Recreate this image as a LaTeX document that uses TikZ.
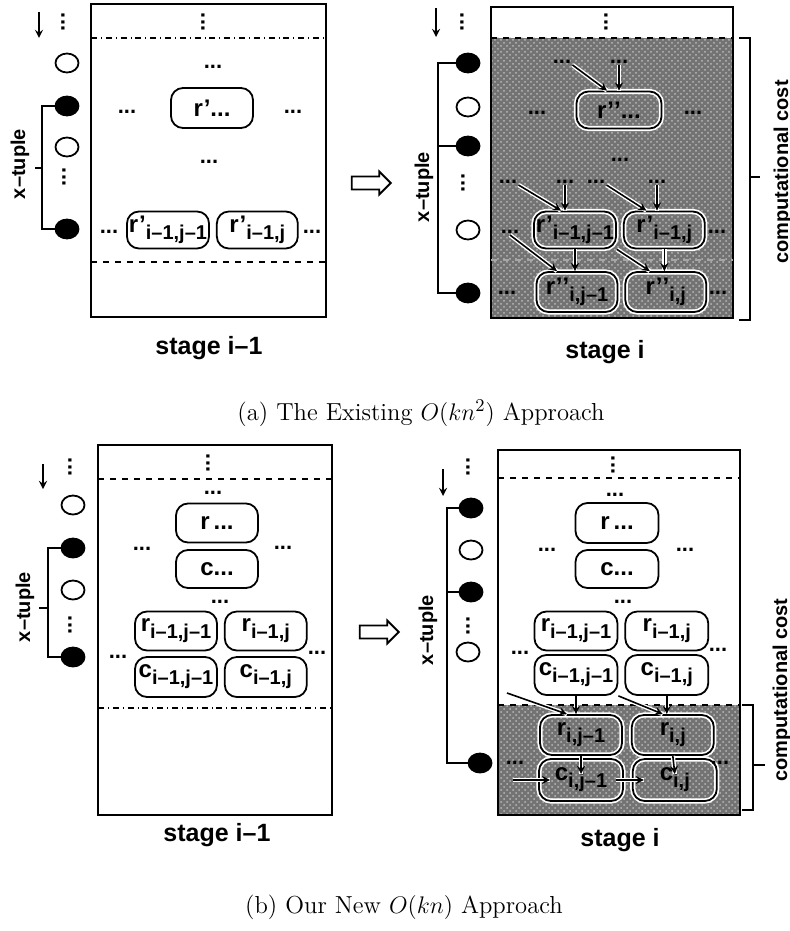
\documentclass[tikz,border=0pt]{standalone}
\usepackage{amsmath}
\usepackage{fontspec}
\newfontfamily\hv[Ligatures=TeX]{Liberation Sans}
\usepackage{tikz}
\usetikzlibrary{arrows,positioning,shapes.geometric,shapes.arrows,patterns}

\newcommand{\sbs}[1]{\raisebox{-0.55ex}{\fontsize{10}{10}\selectfont #1}}

\begin{document}
\begin{tikzpicture}[
  x=0.5pt, y=-0.5pt, >=stealth,
  frm/.style={line width=1pt},
  sep/.style={dashed, line width=0.8pt},
  sepdd/.style={dash dot, line width=0.8pt},
  shade/.style={fill=black!55, postaction={pattern=crosshatch dots, pattern color=white!72!black}},
  cell/.style={draw, line width=0.9pt, rounded corners=6pt, minimum width=40.5pt, minimum height=18.5pt, inner sep=1pt, font=\hv\bfseries\fontsize{12}{12}\selectfont},
  hcell/.style={cell, preaction={draw=white, line width=2.6pt}},
  hd/.style={font=\hv\bfseries\fontsize{11}{11}\selectfont, inner sep=0.5pt},
  vd/.style={hd, rotate=90},
  tup/.style={ellipse, draw, line width=0.9pt, minimum width=11.5pt, minimum height=9.5pt, inner sep=0},
  ftup/.style={tup, fill=black},
  brk/.style={line width=0.8pt},
  flow/.style={->, line width=0.8pt},
  hflow/.style={flow, preaction={draw=white, line width=2.2pt, -}},
  lbl/.style={font=\hv\bfseries\fontsize{10}{12}\selectfont},
  stg/.style={font=\hv\bfseries\fontsize{12.5}{14}\selectfont},
  capt/.style={font=\fontsize{12.3}{14}\selectfont},
  hollow/.style={single arrow, draw, line width=0.9pt, fill=white, minimum height=19.5pt, inner sep=2.8pt, single arrow head extend=2.5pt}
]
\useasboundingbox (0,0) rectangle (790,931);

\draw[frm] (91,4) rectangle (326,317);
\draw[sepdd] (91,38) -- (326,38);
\draw[sep] (91,262) -- (326,262);
\node[vd] (atop) at (203,22) {...};
\coordinate (aa1) at (39,12);
\coordinate (aa2) at (39,38);
\draw[flow] (aa1) -- (aa2);
\node[vd] (av0) at (63,22) {...};
\node[tup] (at1) at (67,63) {};
\node[ftup] (at2) at (67,106) {};
\node[tup] (at3) at (67,147) {};
\node[vd] (av1) at (64,177) {...};
\node[ftup] (at4) at (67,229) {};
\coordinate (ab) at (42,168);
\draw[brk] (at2.west) -| (ab) |- (at4.west);
\draw[brk] (ab) -- ++(-7,0);
\node[lbl, rotate=90] (axt) at (20,164) {x--tuple};
\node[hd] (ad1) at (213,67) {...};
\node[cell, minimum width=41pt, minimum height=20pt] (arp) at (212,108) {r'...};
\node[hd] (ad2) at (127,112) {...};
\node[hd] (ad3) at (293,112) {...};
\node[hd] (ad4) at (209,162) {...};
\node[cell] (ar1) at (168,230) {r'\sbs{i--1,j--1}};
\node[cell, right=3pt of ar1] (ar2) {r'\sbs{i--1,j}};
\node[hd] (ad5) at (109,232) {...};
\node[hd] (ad6) at (312,232) {...};
\node[stg] (ast) at (209,348) {stage i--1};

\node[hollow] (ha) at (368,183) {};

\fill[shade] (491,38) rectangle (733,318);
\draw[frm] (491,7) rectangle (733,318);
\draw[sep] (491,38) -- (733,38);
\draw[sep, white!65!black] (491,260) -- (733,260);
\node[vd] (btop) at (606,22) {...};
\coordinate (ba1) at (436,8);
\coordinate (ba2) at (436,37);
\draw[flow] (ba1) -- (ba2);
\node[vd] (bv0) at (462,22) {...};
\node[ftup] (bt1) at (468,63) {};
\node[tup] (bt2) at (468,107) {};
\node[ftup] (bt3) at (468,146) {};
\node[vd] (bv1) at (463,183) {...};
\node[tup] (bt4) at (468,230) {};
\node[ftup] (bt5) at (468,293) {};
\coordinate (bb) at (438,178);
\draw[brk] (bt1.west) -| (bb) |- (bt5.west);
\draw[brk] (bt3.west) -- (bt3.west -| bb);
\node[lbl, rotate=90] (bxt) at (424,187) {x--tuple};
\node[hd] (bd1) at (562,62) {...};
\node[hd] (bd2) at (619,62) {...};
\node[hcell, minimum width=42.5pt] (brp) at (619,110) {r'\kern0pt'...};
\draw[hflow] (bd1.south east) -- ([xshift=-6pt]brp.north);
\draw[hflow] (bd2.south) -- (brp.north);
\node[hd] (bd3) at (537,113) {...};
\node[hd] (bd4) at (693,113) {...};
\node[hd] (bd5) at (620,160) {...};
\node[hd] (bd6) at (508,182) {...};
\node[hd] (bd7) at (565,182) {...};
\node[hd] (bd8) at (596,182) {...};
\node[hd] (bd9) at (657,182) {...};
\node[hcell] (br1) at (575,230) {r'\sbs{i--1,j--1}};
\node[hcell, right=3pt of br1] (br2) {r'\sbs{i--1,j}};
\draw[hflow] (bd6.south east) -- ([xshift=-7pt]br1.north);
\draw[hflow] (bd7.south) -- (bd7.south |- br1.north);
\draw[hflow] (bd8.south east) -- ([xshift=-9pt]br2.north);
\draw[hflow] (bd9.south) -- (bd9.south |- br2.north);
\node[hd] (bd10) at (510,232) {...};
\node[hd] (bd11) at (717,232) {...};
\node[hcell, minimum height=20pt] (br3) at (577,292) {r'\kern0pt'\sbs{i,j--1}};
\node[hcell, minimum height=20pt, right=3pt of br3] (br4) {r'\kern0pt'\sbs{i,j}};
\draw[hflow] (bd10.south) -- ([xshift=-10pt]br3.north);
\draw[hflow] (br1.south) -- (br1.south |- br3.north);
\draw[hflow] (br1.south east) -- ([xshift=-8pt]br4.north);
\draw[hflow] (br2.south) -- (br2.south |- br4.north);
\node[hd] (bd12) at (507,293) {...};
\node[hd] (bd13) at (718,293) {...};
\coordinate (bc1) at (739,38);
\coordinate (bc2) at (739,320);
\coordinate (bcm) at (750,177);
\draw[brk] (bc1) -- (bc1 -| bcm) -- (bc2 -| bcm) -- (bc2);
\draw[brk] (bcm) -- ++(10,0);
\node[lbl, rotate=90] (bcost) at (783,172) {computational cost};
\node[stg] (bst) at (605,352) {stage i};

\node[capt] (capa) at (421,413) {(a) The Existing $O(kn^2)$ Approach};

\draw[frm] (98,445) rectangle (332,815);
\draw[sep] (98,479) -- (332,479);
\draw[sepdd] (98,708) -- (332,708);
\node[vd] (ctop) at (208,463) {...};
\coordinate (ca1) at (43,464);
\coordinate (ca2) at (43,489);
\draw[flow] (ca1) -- (ca2);
\node[vd] (cv0) at (70,467) {...};
\node[tup] (ct1) at (73,505) {};
\node[ftup] (ct2) at (73,548) {};
\node[tup] (ct3) at (73,590) {};
\node[vd] (cv1) at (70,625) {...};
\node[ftup] (ct4) at (73,657) {};
\coordinate (cb) at (48,608);
\draw[brk] (ct2.west) -| (cb) |- (ct4.west);
\draw[brk] (cb) -- ++(-9,0);
\node[lbl, rotate=90] (cxt) at (25,607) {x--tuple};
\node[hd] (cd1) at (213,493) {...};
\node[cell, minimum width=41pt, minimum height=19.5pt] (crr) at (217,523) {r\,...};
\node[cell, minimum width=41pt, minimum height=19pt] (ccc) at (217,569) {c...};
\node[hd] (cd2) at (142,549) {...};
\node[hd] (cd3) at (283,548) {...};
\node[hd] (cd4) at (220,602) {...};
\node[cell, minimum width=41pt, minimum height=19.5pt] (cr1) at (176,631) {r\sbs{i--1,j--1}};
\node[cell, minimum width=41pt, minimum height=19.5pt, right=3pt of cr1] (cr2) {r\sbs{i--1,j}};
\node[cell, minimum width=41pt, minimum height=20pt] (cc1) at (176,677) {c\sbs{i--1,j--1}};
\node[cell, minimum width=41pt, minimum height=20pt, right=3pt of cc1] (cc2) {c\sbs{i--1,j}};
\node[hd] (cd5) at (118,657) {...};
\node[hd] (cd6) at (317,653) {...};
\node[stg] (cst) at (217,835) {stage i--1};

\node[hollow] (hb) at (376,632) {};

\fill[shade] (498,705) rectangle (740,815);
\draw[frm] (498,450) rectangle (740,815);
\draw[sep] (498,478) -- (740,478);
\draw[sep] (498,705) -- (740,705);
\node[vd] (dtop) at (613,465) {...};
\coordinate (da1) at (443,469);
\coordinate (da2) at (443,496);
\draw[flow] (da1) -- (da2);
\node[vd] (dv0) at (468,467) {...};
\node[ftup] (dt1) at (471,508) {};
\node[tup] (dt2) at (471,550) {};
\node[ftup] (dt3) at (471,592) {};
\node[vd] (dv1) at (468,626) {...};
\node[tup] (dt4) at (468,652) {};
\node[ftup] (dt5) at (480,763) {};
\coordinate (db) at (447,630);
\draw[brk] (dt1.west) -| (db) |- (dt5.west);
\draw[brk] (dt3.west) -- (dt3.west -| db);
\node[lbl, rotate=90] (dxt) at (428,630) {x--tuple};
\node[hd] (dd1) at (615,495) {...};
\node[cell, minimum width=41.5pt, minimum height=20pt] (drr) at (617,523) {r\,...};
\node[cell, minimum width=41.5pt, minimum height=19pt] (dcc) at (617,569) {c...};
\node[hd] (dd2) at (547,550) {...};
\node[hd] (dd3) at (685,550) {...};
\node[hd] (dd4) at (623,602) {...};
\node[cell, minimum width=41.5pt, minimum height=19.5pt] (dr1) at (576,631) {r\sbs{i--1,j--1}};
\node[cell, minimum width=41.5pt, minimum height=19.5pt, right=3pt of dr1] (dr2) {r\sbs{i--1,j}};
\node[cell, minimum width=41.5pt, minimum height=20pt] (dc1) at (576,675) {c\sbs{i--1,j--1}};
\node[cell, minimum width=41.5pt, minimum height=20pt, right=3pt of dc1] (dc2) {c\sbs{i--1,j}};
\node[hd] (dd5) at (520,653) {...};
\node[hd] (dd6) at (718,650) {...};
\node[hcell, minimum width=41pt, minimum height=20pt] (dr3) at (581,735) {r\sbs{i,j--1}};
\node[hcell, minimum width=41pt, minimum height=20pt, right=4pt of dr3] (dr4) {r\sbs{i,j}};
\node[hcell, minimum width=42pt, minimum height=21pt] (dc3) at (581,780) {c\sbs{i,j--1}};
\node[hcell, minimum width=42pt, minimum height=21pt, right=4pt of dc3] (dc4) {c\sbs{i,j}};
\node[hd] (dd7) at (515,763) {...};
\node[hd] (dd8) at (720,763) {...};
\coordinate (dl1) at (507,693);
\coordinate (dl2) at (513,780);
\draw[hflow] (dl1) -- ([xshift=-7pt]dr3.north);
\draw[hflow] (dc1.south) -- (dc1.south |- dr3.north);
\draw[hflow] (dc1.south east) -- ([xshift=-5pt]dr4.north);
\draw[hflow] (dc2.south) -- (dc2.south |- dr4.north);
\draw[hflow] (dr3.south) -- ([yshift=3pt]dc3.center);
\draw[hflow] (dr4.south) -- ([yshift=3pt]dc4.center);
\draw[hflow] (dl2) -- ([xshift=6pt]dc3.west);
\draw[hflow] ([xshift=-4pt]dc3.east) -- ([xshift=6pt]dc4.west);
\coordinate (dc5) at (742,705);
\coordinate (dc6) at (742,810);
\coordinate (dcm) at (753,765);
\draw[brk] (dc5) -- (dc5 -| dcm) -- (dc6 -| dcm) -- (dc6);
\draw[brk] (dcm) -- ++(12,0);
\node[lbl, rotate=90] (dcost) at (782,690) {computational cost};
\node[stg] (dst) at (620,840) {stage i};

\node[capt] (capb) at (404,907) {(b) Our New $O(kn)$ Approach};
\end{tikzpicture}
\end{document}
